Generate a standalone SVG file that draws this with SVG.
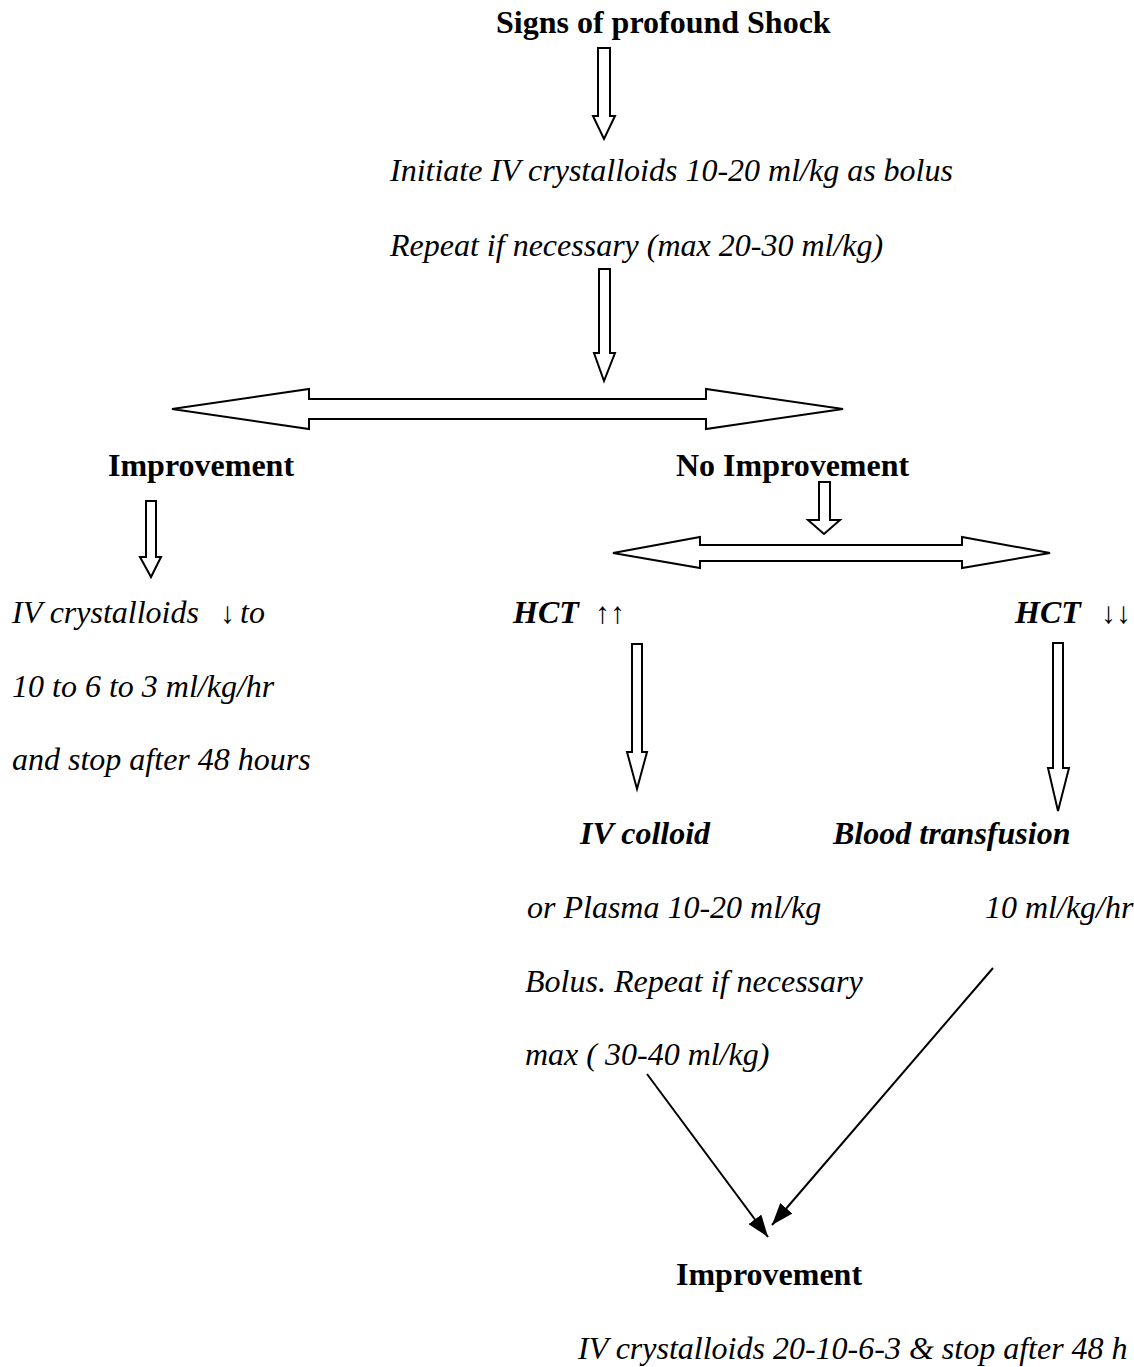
<svg xmlns="http://www.w3.org/2000/svg" width="1134" height="1367" viewBox="0 0 1134 1367">
<defs>
<style>
.t{font-family:"Liberation Serif","Times New Roman",serif;font-size:32px;fill:#000}
.b{font-weight:bold}
.i{font-style:italic}
.sym{font-family:"Liberation Serif","Times New Roman",serif;font-style:normal;font-weight:normal;font-size:30px;fill:#000}
.blk{fill:#fff;stroke:#000;stroke-width:2;stroke-linejoin:miter}
.ln{stroke:#000;stroke-width:2;fill:none}
</style>
<marker id="ah" viewBox="0 0 22 16" refX="22" refY="8" markerWidth="22" markerHeight="16" markerUnits="userSpaceOnUse" orient="auto">
<path d="M0,0 L22,8 L0,16 Z" fill="#000"/>
</marker>
</defs>
<rect width="1134" height="1367" fill="#fff"/>

<g id="n-shock"><text class="t b" x="496" y="33">Signs of profound Shock</text></g>
<g id="n-initiate">
<text class="t i" x="390" y="181">Initiate IV crystalloids 10-20 ml/kg as bolus</text>
<text class="t i" x="390" y="256">Repeat if necessary (max 20-30 ml/kg)</text>
</g>
<g id="n-improvement1"><text class="t b" x="108" y="476">Improvement</text></g>
<g id="n-noimprovement"><text class="t b" x="676" y="476">No Improvement</text></g>
<g id="n-left">
<text class="t i" x="12" y="623">IV crystalloids <tspan class="sym" x="220">↓</tspan><tspan x="240">to</tspan></text>
<text class="t i" x="12" y="697">10 to 6 to 3 ml/kg/hr</text>
<text class="t i" x="12" y="770">and stop after 48 hours</text>
</g>
<g id="n-hct-up"><text class="t b i" x="513" y="623">HCT <tspan class="sym" x="595">↑↑</tspan></text></g>
<g id="n-hct-down"><text class="t b i" x="1015" y="623">HCT <tspan class="sym" x="1101">↓↓</tspan></text></g>
<g id="n-colloid">
<text class="t b i" x="580" y="844">IV colloid</text>
<text class="t i" x="527" y="918">or Plasma 10-20 ml/kg</text>
<text class="t i" x="525" y="992">Bolus. Repeat if necessary</text>
<text class="t i" x="525" y="1065">max ( 30-40 ml/kg)</text>
</g>
<g id="n-blood">
<text class="t b i" x="833" y="844">Blood transfusion</text>
<text class="t i" x="985" y="918">10 ml/kg/hr</text>
</g>
<g id="n-improvement2">
<text class="t b" x="676" y="1285">Improvement</text>
<text class="t i" x="578" y="1359">IV crystalloids 20-10-6-3 &amp; stop after 48 h</text>
</g>

<g id="connectors">
<polygon class="blk" points="598,48 610,48 610,116 615,116 604,139 593,116 598,116"/>
<polygon class="blk" points="599,269 610,269 610,353 615,353 604,381 594,353 599,353"/>
<polygon class="blk" points="172,409 309,389 309,399 706,399 706,389 843,409 706,429 706,419 309,419 309,429"/>
<polygon class="blk" points="146,501 156,501 156,557 161,557 151,577 140,557 146,557"/>
<polygon class="blk" points="819,482 830,482 830,520 840,520 824,534 808,520 819,520"/>
<polygon class="blk" points="613,553 700,537 700,545 962,545 962,537 1050,553 962,568 962,561 700,561 700,568"/>
<polygon class="blk" points="632,644 642,644 642,752 647,752 637,789 627,752 632,752"/>
<polygon class="blk" points="1053,643 1063,643 1063,768 1069,768 1058,811 1048,768 1053,768"/>
<line class="ln" x1="647" y1="1074" x2="768" y2="1237" marker-end="url(#ah)"/>
<line class="ln" x1="993" y1="968" x2="772" y2="1225" marker-end="url(#ah)"/>
</g>
</svg>
